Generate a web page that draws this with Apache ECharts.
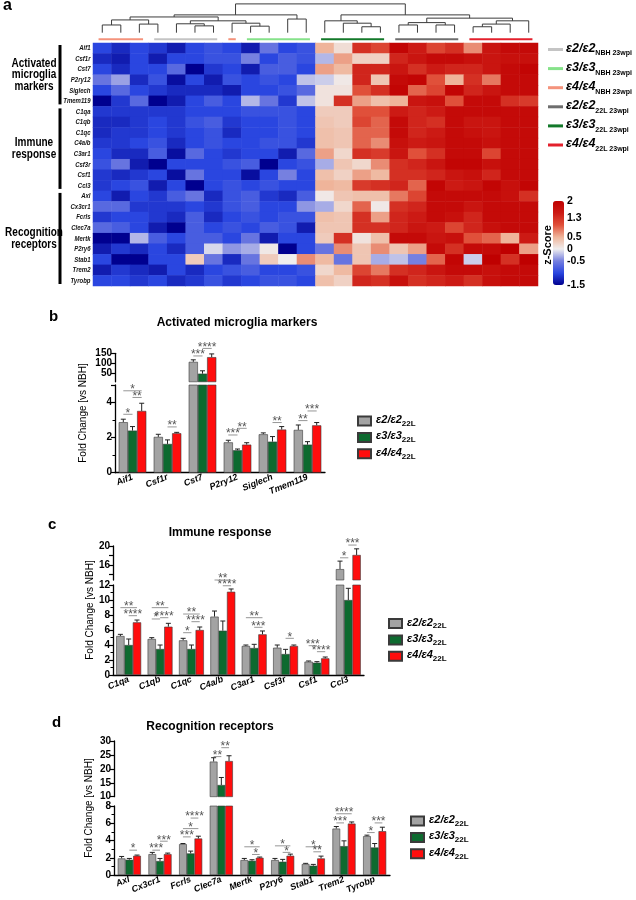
<!DOCTYPE html>
<html><head><meta charset="utf-8">
<script src="https://cdn.jsdelivr.net/npm/echarts@6/dist/echarts.min.js"></script>
<style>html,body{margin:0;padding:0;background:#fff}#c{width:636px;height:900px}</style>
</head><body><div id="c"></div>
<script>
// ---------------- DATA ----------------
// Heatmap (panel a)
const genes = ['Aif1','Csf1r','Cst7','P2ry12','Siglech','Tmem119','C1qa','C1qb','C1qc','C4a/b','C3ar1','Csf3r','Csf1','Ccl3','Axl','Cx3cr1','Fcrls','Clec7a','Mertk','P2ry6','Stab1','Trem2','Tyrobp'];
const sampleGroup = [2,2,2,0,0,0,0,2,1,1,1,1,4,4,4,4,3,3,3,3,5,5,5,5];
const samples = sampleGroup.map((g, i) => 'S' + (i + 1));
const zScores = [
 [-1.0,-1.2,-1.0,-1.1,-1.3,-1.0,-0.9,-1.0,-1.3,-0.6,-1.0,-0.9, 0.5,0.15,1.3,1.1,1.9,1.5,1.1,1.3,0.7,1.6,1.8,1.8],
 [-1.2,-1.3,-1.0,-1.3,-1.0,-1.0,-0.9,-0.9,-0.5,-1.0,-0.8,-0.9, -0.25,0.6,0.25,0.25,1.4,1.6,1.8,1.8,1.7,1.6,1.7,1.7],
 [-1.0,-1.2,-1.0,-1.0,-0.7,-1.5,-1.1,-1.0,-1.3,-0.8,-0.8,-1.0, 0.6,0.45,1.4,1.4,1.6,1.3,1.5,1.4,1.4,1.6,1.8,1.9],
 [-0.6,-0.35,-1.2,-0.9,-1.4,-1.0,-1.3,-0.9,-1.0,-0.9,-1.0,-0.2, -0.15,0.05,1.4,0.35,1.8,1.9,1.0,0.5,1.3,0.8,1.8,1.8],
 [-1.0,-0.7,-1.0,-1.1,-1.2,-1.2,-1.2,-1.3,-1.0,-1.0,-0.9,-0.7, 0.1,0.1,1.0,1.3,1.9,0.9,1.1,1.9,1.4,1.6,1.8,1.8],
 [-1.5,-1.1,-0.7,-1.5,-1.3,-1.0,-0.8,-1.0,-0.25,-0.6,-1.1,-0.2, 0.1,1.3,0.6,0.4,0.5,1.6,1.7,1.0,1.8,1.8,1.3,1.2],
 [-1.1,-1.1,-1.1,-1.1,-1.1,-1.0,-1.0,-1.0,-0.9,-0.9,-0.9,-1.0, 0.3,0.3,1.0,1.0,1.5,1.4,1.5,1.8,1.8,1.8,1.8,1.8],
 [-1.2,-1.2,-1.1,-1.0,-1.1,-0.9,-0.8,-1.1,-1.0,-1.0,-0.9,-1.0, 0.35,0.3,1.1,0.9,1.8,1.4,1.3,1.8,1.6,1.6,1.8,1.8],
 [-1.2,-1.1,-1.1,-1.0,-1.1,-1.0,-0.9,-1.2,-1.0,-1.0,-0.9,-1.0, 0.4,0.35,0.9,0.9,1.8,1.4,1.5,1.8,1.7,1.6,1.8,1.8],
 [-1.1,-1.1,-1.0,-0.9,-1.2,-1.0,-0.9,-1.0,-1.0,-0.9,-0.9,-1.1, 0.4,0.35,0.9,0.7,1.7,1.5,1.6,1.8,1.8,1.7,1.8,1.8],
 [-1.0,-1.2,-1.2,-0.8,-1.4,-0.7,-1.0,-1.1,-1.0,-1.0,-1.3,-0.7, 0.6,0.2,1.3,1.2,1.6,1.0,1.3,1.8,1.8,1.1,1.8,1.8],
 [-0.9,-0.6,-1.3,-1.5,-1.0,-1.0,-1.0,-0.9,-0.8,-1.5,-1.0,-0.9, -0.3,0.35,0.2,0.7,1.3,1.4,1.6,1.9,1.9,1.7,1.8,1.8],
 [-1.1,-1.2,-1.1,-1.0,-1.4,-0.6,-1.0,-1.0,-1.4,-1.0,-0.5,-1.0, 0.4,0.25,0.6,0.45,1.3,1.3,1.4,1.6,1.7,1.4,1.8,1.8],
 [-1.1,-1.0,-0.9,-1.3,-1.0,-1.5,-1.0,-0.9,-1.0,-0.9,-1.0,-1.0, 0.5,0.45,1.2,1.3,1.4,0.9,1.9,1.5,1.6,1.9,1.7,1.9],
 [-1.0,-1.3,-1.0,-1.1,-0.8,-0.6,-1.2,-0.9,-0.8,-1.1,-1.2,-0.8, 0.05,0.35,0.4,0.4,0.8,1.1,1.8,1.8,1.8,1.8,1.7,1.3],
 [-0.7,-0.7,-1.1,-1.1,-1.1,-1.0,-1.1,-0.9,-0.8,-1.0,-1.0,-0.4, -0.3,0.2,0.9,0.05,1.3,1.4,1.8,1.8,1.6,1.8,1.8,1.8],
 [-1.1,-1.0,-1.0,-1.1,-1.2,-0.8,-1.2,-1.0,-0.9,-1.0,-0.9,-0.9, 0.4,0.35,1.3,0.6,1.4,1.5,1.8,1.7,1.4,1.8,1.8,1.8],
 [-0.7,-0.8,-1.0,-1.3,-1.5,-0.8,-1.0,-0.9,-1.0,-0.8,-0.9,-1.3, 0.35,0.35,1.3,1.3,1.4,1.6,1.5,1.1,1.4,1.7,1.8,1.8],
 [-1.5,-1.5,-0.25,-0.8,-1.0,-0.8,-0.8,-1.0,-0.6,-1.3,-1.0,-1.0, 0.3,1.3,0.1,0.4,1.8,1.8,1.6,1.7,1.0,0.9,0.5,1.5],
 [-1.3,-1.1,-1.2,-1.0,-1.2,-0.8,-0.1,-0.4,-0.3,0.05,-1.5,-1.0, -0.6,0.7,0.35,0.7,0.35,0.6,1.8,1.3,1.8,1.8,2.0,0.6],
 [-1.0,-1.5,-1.5,-1.0,-1.0,0.3,-0.6,-1.2,-0.6,0.3,0.0,0.7, 0.45,-0.6,0.35,-0.3,-0.2,-0.5,0.9,1.9,-0.15,2.0,1.3,2.0],
 [-1.3,-1.1,-1.2,-1.3,-1.0,-1.2,-1.0,-0.9,-0.8,-1.0,-1.0,-0.9, 0.2,0.45,1.1,0.8,1.3,1.4,1.6,1.8,1.8,1.7,1.8,1.8],
 [-1.0,-1.0,-1.1,-1.0,-1.2,-1.1,-0.9,-1.1,-1.0,-0.9,-0.9,-1.0, 0.4,0.25,1.4,1.3,1.7,1.3,1.4,1.5,1.3,1.7,1.8,1.8]
];
const groupNames = ['ε2/ε2','ε3/ε3','ε4/ε4','ε2/ε2','ε3/ε3','ε4/ε4'];
const groupSubs = ['NBH 23wpi','NBH 23wpi','NBH 23wpi','22L 23wpi','22L 23wpi','22L 23wpi'];
const groupColors = ['#c4c4c4','#86e28a','#f4937c','#6e6e6e','#13792a','#e3202c'];
// dendrogram merges (ids >= 24 refer to earlier merges: id = 24 + merge index)
const dendroA = [0, 2, 24, 5, 4, 8, 7, 28, 26, 10, 32, 14, 13, 12, 16, 18, 38, 20, 41, 42, 40, 37, 34];
const dendroB = [1, 3, 25, 6, 27, 9, 29, 30, 31, 11, 33, 15, 35, 36, 17, 19, 39, 21, 22, 23, 43, 44, 45];
const dendroH = [2.6,2.9,4.3,2.3,3.0,2.2,3.2,4.0,5.3,4.6,6.0,2.0,3.2,4.0,2.6,2.6,3.4,2.0,2.9,4.0,4.9,6.0,9.7];
const geneSets = ['Activated\nmicroglia\nmarkers','Immune\nresponse','Recognition\nreceptors'];
const geneSetStart = [0, 6, 14];
const geneSetEnd = [5, 13, 22];
const colorbarTicks = [2, 1.3, 0.5, 0, -0.5, -1.5];

// Bar panels
const seriesNames = ['ε2/ε2 22L','ε3/ε3 22L','ε4/ε4 22L'];
const barColors = ['#a3a3a3','#0d6a2f','#ff0d0d'];

const bGenes = ['Aif1','Csf1r','Cst7','P2ry12','Siglech','Tmem119'];
const bE2 = [2.88, 2.04, 108, 1.73, 2.19, 2.44];
const bE3 = [2.40, 1.64, 50, 1.28, 1.77, 1.60];
const bE4 = [3.52, 2.25, 131, 1.60, 2.46, 2.70];
const bE2err = [3.05, 2.19, 118, 1.85, 2.27, 2.72];
const bE3err = [2.63, 1.87, 64, 1.35, 2.06, 1.77];
const bE4err = [3.96, 2.30, 147, 1.71, 2.63, 2.86];
// [gene, from bar, to bar, height, stars]
const bSig = [[0,0,1,3.33,1],[0,0,2,4.67,1],[0,1,2,4.29,2],[1,1,2,2.61,2],[2,0,1,137,3],[2,1,2,174,4],[3,0,1,2.15,3],[3,1,2,2.53,2],[4,1,2,2.86,2],[5,0,1,2.97,2],[5,1,2,3.52,3]];

const cGenes = ['C1qa','C1qb','C1qc','C4a/b','C3ar1','Csf3r','Csf1','Ccl3'];
const cE2 = [5.2, 4.8, 4.62, 7.78, 3.87, 3.64, 1.78, 15.1];
const cE3 = [4.0, 3.47, 3.47, 5.91, 3.6, 2.8, 1.64, 10.0];
const cE4 = [7.02, 6.44, 6.0, 11.1, 5.42, 3.87, 2.22, 18.1];
const cE2err = [5.42, 4.98, 4.89, 8.53, 4.0, 4.0, 1.87, 16.8];
const cE3err = [4.8, 4.0, 4.0, 7.2, 4.09, 3.42, 1.78, 11.56];
const cE4err = [7.33, 6.89, 6.4, 11.47, 5.87, 4.0, 2.4, 19.4];
const cSig = [[0,0,2,8.98,2],[0,1,2,7.91,4],[1,0,2,8.98,2],[1,0,1,7.47,1],[1,1,2,7.64,4],[2,0,2,8.13,2],[2,0,1,5.64,1],[2,1,2,7.11,4],[3,0,2,12.8,2],[3,1,2,11.9,4],[4,0,2,7.64,2],[4,1,2,6.36,3],[5,1,2,4.89,1],[6,0,1,3.91,3],[6,1,2,3.11,4],[7,0,1,17.5,1],[7,1,2,20.2,3]];

const dGenes = ['Axl','Cx3cr1','Fcrls','Clec7a','Mertk','P2ry6','Stab1','Trem2','Tyrobp'];
const dE2 = [1.92, 2.42, 3.58, 22.6, 1.73, 1.73, 1.27, 5.38, 4.5];
const dE3 = [1.77, 1.62, 2.5, 14.2, 1.65, 1.54, 1.08, 3.35, 3.19];
const dE4 = [2.23, 2.42, 4.23, 22.8, 2.0, 2.23, 1.92, 5.96, 5.08];
const dE2err = [2.15, 2.62, 3.65, 24.0, 1.92, 1.92, 1.35, 5.62, 4.62];
const dE3err = [1.92, 1.92, 2.77, 16.9, 1.77, 1.81, 1.23, 3.96, 3.65];
const dE4err = [2.31, 2.54, 4.5, 24.7, 2.08, 2.42, 2.19, 6.15, 5.54];
const dSig = [[0,1,2,2.88,1],[1,0,1,2.88,3],[1,1,2,3.92,3],[2,0,1,4.42,3],[2,0,2,5.38,1],[2,1,2,6.6,4],[3,0,1,24.4,2],[3,1,2,27.6,2],[4,0,2,3.27,1],[4,1,2,2.38,1],[5,0,2,3.38,1],[5,1,2,2.62,1],[6,0,2,3.27,1],[6,1,2,2.69,2],[7,0,1,6.04,3],[7,0,2,7.1,4],[8,0,1,4.92,1],[8,1,2,6.04,3]];

// ---------------- CHART ----------------
const FONT = 'Arial, "Liberation Sans", sans-serif';
const chart = echarts.init(document.getElementById('c'), null, {renderer: 'canvas', width: 636, height: 900});

// dendrogram segments
const nodeX = [], nodeH = [];
for (let i = 0; i < samples.length; i++) { nodeX[i] = i + 0.5; nodeH[i] = 0; }
const dendroData = dendroA.map((a, k) => {
  const b = dendroB[k], h = dendroH[k], id = samples.length + k;
  nodeX[id] = (nodeX[a] + nodeX[b]) / 2; nodeH[id] = h;
  return [nodeX[a], nodeH[a], nodeX[b], nodeH[b], h];
});
// group annotation runs
const runs = [];
sampleGroup.forEach((g, i) => {
  if (runs.length && runs[runs.length - 1][2] === g && runs[runs.length - 1][1] === i - 1) runs[runs.length - 1][1] = i;
  else runs.push([i, i, g]);
});
const heatData = [];
zScores.forEach((row, r) => row.forEach((v, c) => heatData.push([c, r, v])));

const axisLbl = {fontFamily: FONT, fontWeight: 'bold', fontSize: 10, color: '#000', margin: 3};
const axLine = {show: true, lineStyle: {color: '#000', width: 1.3}};
const axTick = {show: true, length: 4, lineStyle: {color: '#000', width: 1.2}};

const grids = [], xAxes = [], yAxes = [], series = [];
function addGrid(g) { grids.push(g); return grids.length - 1; }

// grid 0: dendrogram + annotation
const g0 = addGrid({left: 93, top: 3, width: 445, height: 38});
xAxes.push({gridIndex: g0, type: 'value', min: 0, max: 24, show: false});
yAxes.push({gridIndex: g0, type: 'value', min: -2.8, max: 10, show: false});
// grid 1: heatmap
const g1 = addGrid({left: 93, top: 43, width: 445, height: 243});
xAxes.push({gridIndex: g1, type: 'category', data: samples, show: false});
yAxes.push({gridIndex: g1, type: 'category', data: genes, inverse: true,
  axisLine: {show: false}, axisTick: {show: false}, axisLabel: {show: false}});
// grid 2: colorbar labels
const g2 = addGrid({left: 553, top: 201, width: 11, height: 84});
xAxes.push({gridIndex: g2, type: 'value', show: false});
yAxes.push({gridIndex: g2, type: 'value', position: 'right', min: -1.5, max: 2, interval: 0.1,
  axisLine: {show: false}, axisTick: {show: false}, splitLine: {show: false},
  axisLabel: {fontFamily: FONT, fontWeight: 'bold', fontSize: 10.5, color: '#000', margin: 3,
    formatter: v => { const r = Math.round(v * 10) / 10; return colorbarTicks.indexOf(r) >= 0 ? String(r) : ''; }}});

series.push({type: 'custom', xAxisIndex: 0, yAxisIndex: 0, silent: true, data: dendroData,
  encode: {x: [0, 2], y: [1, 3, 4]},
  renderItem: (p, api) => {
    const a = api.coord([api.value(0), api.value(1)]), b = api.coord([api.value(0), api.value(4)]);
    const c = api.coord([api.value(2), api.value(4)]), d = api.coord([api.value(2), api.value(3)]);
    return {type: 'polyline', shape: {points: [a, b, c, d]}, style: {stroke: '#3c3c3c', lineWidth: 1, fill: null}};
  }});
series.push({type: 'custom', xAxisIndex: 0, yAxisIndex: 0, silent: true, data: runs,
  encode: {x: [0, 1]},
  renderItem: (p, api) => {
    const a = api.coord([api.value(0) + 0.3, -2.2]), b = api.coord([api.value(1) + 0.7, -2.2]);
    return {type: 'line', shape: {x1: a[0], y1: a[1], x2: b[0], y2: b[1]}, style: {stroke: groupColors[api.value(2)], lineWidth: 2}};
  }});
series.push({type: 'heatmap', xAxisIndex: 1, yAxisIndex: 1, data: heatData, silent: true, itemStyle: {borderWidth: 0}});
const heatIndex = series.length - 1;
// gene labels (condensed look)
series.push({type: 'custom', xAxisIndex: 1, yAxisIndex: 1, silent: true,
  data: genes.map((g, i) => [0, i]), encode: {x: 0, y: 1},
  renderItem: (p, api) => {
    const band = api.size([1, 1]);
    const c = api.coord([0, api.value(1)]);
    return {type: 'text', x: c[0] - band[0] / 2 - 2.5, y: c[1], scaleX: 0.8,
      style: {text: genes[p.dataIndex], align: 'right', verticalAlign: 'middle', font: 'italic bold 7.5px ' + FONT, fill: '#111'}};
  }});
series.push({type: 'custom', xAxisIndex: 1, yAxisIndex: 1, silent: true,
  data: geneSetStart.map((s, i) => [0, s, geneSetEnd[i], i]),
  encode: {x: 0, y: 1},
  renderItem: (p, api) => {
    const band = api.size([1, 1]);
    const top = api.coord([0, api.value(1)]), bot = api.coord([0, api.value(2)]);
    const gl = top[0] - band[0] / 2;
    const y1 = top[1] - band[1] / 2 + 2, y2 = bot[1] + band[1] / 2 - 2;
    return {type: 'group', children: [
      {type: 'rect', shape: {x: gl - 34.5, y: y1, width: 3, height: y2 - y1}, style: {fill: '#000'}},
      {type: 'text', x: gl - 59, y: (y1 + y2) / 2, scaleX: 0.8, style: {text: geneSets[api.value(3)], align: 'center', verticalAlign: 'middle',
        font: 'bold 12.5px ' + FONT, lineHeight: 11.5, fill: '#000'}}
    ]};
  }});

// bar panels
function errRender(bw) {
  return (p, api) => {
    const s = api.value(1);
    const t = api.coord([api.value(0), api.value(2)]), b = api.coord([api.value(0), api.value(3)]);
    const x = t[0] + (s - 1) * bw;
    return {type: 'group', children: [
      {type: 'line', shape: {x1: x, y1: b[1], x2: x, y2: t[1]}, style: {stroke: '#222', lineWidth: 1}},
      {type: 'line', shape: {x1: x - 2.5, y1: t[1], x2: x + 2.5, y2: t[1]}, style: {stroke: '#222', lineWidth: 1}}
    ]};
  };
}
function sigRender(bw) {
  return (p, api) => {
    const c = api.coord([api.value(0), api.value(3)]);
    const x1 = c[0] + (api.value(1) - 1) * bw, x2 = c[0] + (api.value(2) - 1) * bw;
    return {type: 'group', children: [
      {type: 'line', shape: {x1: x1, y1: c[1], x2: x2, y2: c[1]}, style: {stroke: '#8a8a8a', lineWidth: 0.9}},
      {type: 'text', x: (x1 + x2) / 2, y: c[1] - 1, style: {text: '*'.repeat(api.value(4)), align: 'center', verticalAlign: 'middle',
        font: '12px ' + FONT, fill: '#555'}}
    ]};
  };
}
function addPanel(P) {
  const gLo = addGrid({left: P.left, top: P.loTop, width: P.width, height: P.loH});
  const gUp = addGrid({left: P.left, top: P.upTop, width: P.width, height: P.upH});
  const xLo = xAxes.length;
  xAxes.push({gridIndex: gLo, type: 'category', data: P.genes, axisLine: axLine, axisTick: {show: false},
    axisLabel: {fontFamily: FONT, fontStyle: 'italic', fontWeight: 'bold', fontSize: 9, color: '#000', rotate: 22, margin: 4, interval: 0}});
  xAxes.push({gridIndex: gUp, type: 'category', data: P.genes, show: false});
  const yLo = yAxes.length;
  yAxes.push({gridIndex: gLo, type: 'value', min: 0, max: P.loMax, interval: P.loInt,
    axisLine: axLine, axisTick: axTick, splitLine: {show: false},
    minorTick: {show: true, splitNumber: 2, length: 2.5, lineStyle: {color: '#000', width: 1}},
    axisLabel: Object.assign({showMaxLabel: P.loShowMax}, axisLbl)});
  yAxes.push(Object.assign({gridIndex: gUp, type: 'value', min: P.upMin, max: P.upMax,
    axisLine: axLine, axisTick: axTick, splitLine: {show: false},
    axisLabel: Object.assign({showMinLabel: P.upShowMin}, axisLbl,
      P.upLabels ? {formatter: v => P.upLabels.indexOf(Math.round(v * 100) / 100) >= 0 ? String(v) : ''} : {})},
    P.upInt ? {interval: P.upInt} : {splitNumber: P.upSplit}));
  const vals = P.vals, errs = P.errs;
  for (let s = 0; s < 3; s++) {
    const common = {type: 'bar', name: seriesNames[s], barWidth: P.bw, barGap: '0%', silent: true,
      itemStyle: {color: barColors[s], borderColor: '#3a3a3a', borderWidth: 0.6}};
    series.push(Object.assign({xAxisIndex: xLo, yAxisIndex: yLo, data: vals[s]}, common));
    series.push(Object.assign({xAxisIndex: xLo + 1, yAxisIndex: yLo + 1, data: vals[s].map(v => v > P.upMin ? v : '-')}, common));
  }
  const eLo = [], eUp = [];
  for (let i = 0; i < P.genes.length; i++) for (let s = 0; s < 3; s++) {
    const item = [i, s, errs[s][i], vals[s][i]];
    (vals[s][i] > P.loMax ? eUp : eLo).push(item);
  }
  series.push({type: 'custom', xAxisIndex: xLo, yAxisIndex: yLo, silent: true, data: eLo, encode: {x: 0, y: 2}, renderItem: errRender(P.bw)});
  series.push({type: 'custom', xAxisIndex: xLo + 1, yAxisIndex: yLo + 1, silent: true, data: eUp, encode: {x: 0, y: 2}, renderItem: errRender(P.bw)});
  series.push({type: 'custom', xAxisIndex: xLo, yAxisIndex: yLo, silent: true, data: P.sig.filter(d => d[3] <= P.loMax), encode: {x: 0, y: 3}, renderItem: sigRender(P.bw)});
  series.push({type: 'custom', xAxisIndex: xLo + 1, yAxisIndex: yLo + 1, silent: true, data: P.sig.filter(d => d[3] > P.loMax), encode: {x: 0, y: 3}, renderItem: sigRender(P.bw)});
}
addPanel({genes: bGenes, vals: [bE2, bE3, bE4], errs: [bE2err, bE3err, bE4err], sig: bSig,
  left: 115, width: 210, loTop: 385, loH: 87.7, upTop: 353.3, upH: 28.5,
  loMax: 5, loInt: 2, loShowMax: false, upMin: 10, upMax: 150, upSplit: 3, upShowMin: false, upLabels: [50, 100, 150], bw: 9.2});
addPanel({genes: cGenes, vals: [cE2, cE3, cE4], errs: [cE2err, cE3err, cE4err], sig: cSig,
  left: 113, width: 251, loTop: 585, loH: 90, upTop: 546, upH: 34,
  loMax: 12, loInt: 2, loShowMax: true, upMin: 12.8, upMax: 20, upSplit: 3, upShowMin: false, upLabels: [16, 20], bw: 8.3});
addPanel({genes: dGenes, vals: [dE2, dE3, dE4], errs: [dE2err, dE3err, dE4err], sig: dSig,
  left: 114, width: 276, loTop: 806, loH: 69, upTop: 741, upH: 55.7,
  loMax: 8, loInt: 2, loShowMax: true, upMin: 10, upMax: 30, upInt: 5, upShowMin: true, bw: 7.7});

const legendRich = {
  a: {fontFamily: FONT, fontSize: 11, fontWeight: 'bold', fontStyle: 'italic', lineHeight: 13, verticalAlign: 'top', color: '#000'},
  s: {fontFamily: FONT, fontSize: 8, fontWeight: 'bold', lineHeight: 9, padding: [6, 0, 0, 0], verticalAlign: 'bottom', color: '#000'}
};
function mkLegend(left, top) {
  return {left: left, top: top, orient: 'vertical', padding: 0, itemWidth: 13, itemHeight: 9, itemGap: 2.4,
    icon: 'rect', selectedMode: false, data: seriesNames,
    formatter: n => { const p = n.split(' '); return '{a|' + p[0] + '}{s|' + p[1] + '}'; },
    textStyle: {rich: legendRich}};
}

const graphics = [];
groupNames.forEach((n, i) => {
  const y = 49.5 + 19.1 * i;
  graphics.push({type: 'line', shape: {x1: 548, y1: y, x2: 563, y2: y}, style: {stroke: groupColors[i], lineWidth: 3}});
  graphics.push({type: 'text', x: 566, y: y - 7.5, style: {text: '{a|' + n + '}{s|' + groupSubs[i] + '}', verticalAlign: 'top',
    rich: {a: {font: 'bold italic 12.5px ' + FONT, lineHeight: 15, verticalAlign: 'top', fill: '#000'},
           s: {font: 'bold 7px ' + FONT, lineHeight: 9, padding: [12, 0, 0, 0], verticalAlign: 'bottom', fill: '#000'}}}});
});
graphics.push({type: 'text', x: 548, y: 245, rotation: Math.PI / 2, style: {text: 'z-Score', align: 'center', verticalAlign: 'middle', font: 'bold 11px ' + FONT, fill: '#000'}});
[[83, 413], [90.5, 610], [89, 808]].forEach(p => graphics.push({type: 'text', x: p[0], y: p[1], rotation: Math.PI / 2,
  style: {text: 'Fold Change [vs NBH]', align: 'center', verticalAlign: 'middle', font: '10px ' + FONT, fill: '#000'}}));

function ttl(text, left, top, size, align) {
  return {text: text, left: left, top: top, padding: 0, textAlign: align || 'left',
    textStyle: {fontFamily: FONT, fontWeight: 'bold', fontSize: size, lineHeight: size, color: '#000'}};
}

chart.setOption({
  animation: false,
  backgroundColor: '#fff',
  title: [ttl('a', 3, -2, 16), ttl('b', 49, 309, 15), ttl('c', 48, 517, 15), ttl('d', 52, 715, 15),
    ttl('Activated microglia markers', 237, 317, 12, 'center'), ttl('Immune response', 220, 527, 12, 'center'), ttl('Recognition receptors', 210, 721, 12, 'center')],
  grid: grids, xAxis: xAxes, yAxis: yAxes,
  visualMap: {type: 'continuous', min: -1.5, max: 2, seriesIndex: heatIndex, dimension: 2, calculable: false,
    left: 553, top: 201, itemWidth: 11, itemHeight: 84, padding: 0, text: ['', ''], showLabel: false,
    inRange: {color: ['#00008f', '#2a46e0', '#7680e0', '#f0eeee', '#efb49a', '#e0503a', '#cc1a14', '#bf0000']}},
  legend: [mkLegend(357, 413.5), mkLegend(388, 616), mkLegend(410, 813.5)],
  graphic: graphics,
  series: series
});
</script></body></html>
